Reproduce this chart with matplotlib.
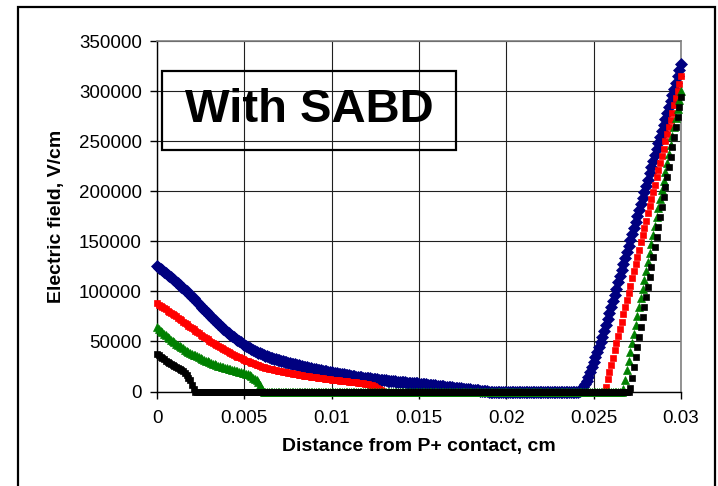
import matplotlib.pyplot as plt
import numpy as np
from matplotlib.patches import Rectangle

plt.rcParams['font.family'] = ['Liberation Sans', 'DejaVu Sans']

# Position grid, cm (step 0.0001 cm)
x = np.linspace(0, 0.03, 301)

# Electric field, kV/cm. Non-zero parts typed out, zero parts as runs.
blue_left = [125.0, 123.7, 122.4, 121.0, 119.6, 118.2, 116.8, 115.4, 113.9, 112.5,
             111.0, 109.5, 107.9, 106.4, 104.8, 103.2, 101.6, 100.0, 98.3, 96.6,
             94.8, 93.1, 91.3, 89.4, 87.6, 85.7, 83.8, 81.9, 80.1, 78.3,
             76.5, 74.7, 72.9, 71.2, 69.4, 67.7, 66.0, 64.4, 62.8, 61.2,
             59.7, 58.2, 56.8, 55.4, 54.0, 52.7, 51.4, 50.2, 49.0, 47.8,
             46.7, 45.6, 44.6, 43.5, 42.5, 41.6, 40.7, 39.8, 38.9, 38.1,
             37.3, 36.6, 35.9, 35.2, 34.5, 33.9, 33.4, 32.9, 32.3, 31.8,
             31.3, 30.8, 30.3, 29.8, 29.3, 28.8, 28.3, 27.9, 27.4, 27.0,
             26.5, 26.1, 25.7, 25.3, 24.8, 24.4, 24.0, 23.7, 23.3, 22.9,
             22.5, 22.2, 21.8, 21.5, 21.1, 20.8, 20.4, 20.1, 19.8, 19.5,
             19.2, 18.9, 18.5, 18.2, 17.9, 17.6, 17.3, 17.0, 16.7, 16.4,
             16.1, 15.8, 15.6, 15.3, 15.0, 14.8, 14.5, 14.3, 14.0, 13.8,
             13.5, 13.3, 13.1, 12.8, 12.6, 12.4, 12.2, 12.0, 11.8, 11.5,
             11.3, 11.1, 10.9, 10.8, 10.6, 10.4, 10.2, 10.0, 9.8, 9.7,
             9.5, 9.3, 9.2, 9.0, 8.9, 8.7, 8.6, 8.4, 8.3, 8.1,
             8.0, 7.8, 7.6, 7.4, 7.2, 7.0, 6.8, 6.6, 6.4, 6.2,
             6.0, 5.8, 5.6, 5.4, 5.2, 5.0, 4.8, 4.6, 4.4, 4.2,
             4.0, 3.8, 3.6, 3.4, 3.2, 3.0, 2.8, 2.6, 2.4, 2.2,
             2.0, 1.8, 1.6, 1.4, 1.2, 1.0, 0.8, 0.6, 0.4, 0.2]
blue_rise = [1.0, 3.0, 5.0, 8.0, 11.0, 15.0, 19.0, 24.0, 29.0, 34.0,
             39.0, 44.0, 49.0, 54.5, 60.5, 66.5, 72.6, 78.6, 84.7, 90.7,
             96.8, 102.8, 108.9, 114.9, 121.0, 127.0, 133.1, 139.1, 145.2, 151.2,
             157.3, 163.3, 169.4, 175.4, 181.5, 187.5, 193.6, 199.6, 205.7, 211.7,
             217.8, 223.8, 229.9, 235.9, 242.0, 248.0, 254.1, 260.1, 266.2, 272.2,
             278.3, 284.3, 290.4, 296.4, 302.5, 308.5, 314.6, 320.6, 326.7]
blue = blue_left + [0.0] * 52 + blue_rise

red_left = [88.0, 86.8, 85.6, 84.5, 83.3, 82.1, 80.9, 79.7, 78.6, 77.4,
            76.2, 75.0, 73.7, 72.4, 71.1, 69.8, 68.5, 67.2, 65.9, 64.6,
            63.3, 62.0, 60.7, 59.4, 58.1, 56.9, 55.7, 54.5, 53.3, 52.1,
            50.9, 49.8, 48.7, 47.6, 46.5, 45.5, 44.4, 43.4, 42.4, 41.4,
            40.4, 39.4, 38.5, 37.6, 36.7, 35.8, 34.9, 34.0, 33.2, 32.4,
            31.6, 30.8, 30.1, 29.4, 28.7, 28.0, 27.3, 26.7, 26.1, 25.5,
            24.9, 24.4, 23.9, 23.4, 22.9, 22.4, 22.0, 21.6, 21.2, 20.8,
            20.5, 20.1, 19.8, 19.4, 19.1, 18.7, 18.4, 18.1, 17.7, 17.4,
            17.1, 16.8, 16.5, 16.2, 15.9, 15.7, 15.4, 15.1, 14.8, 14.6,
            14.3, 14.1, 13.8, 13.6, 13.3, 13.1, 12.9, 12.6, 12.4, 12.2,
            12.0, 11.8, 11.6, 11.4, 11.2, 11.0, 10.8, 10.6, 10.4, 10.2,
            10.0, 9.8, 9.6, 9.4, 9.2, 9.0, 8.8, 8.6, 8.3, 8.0,
            7.6, 7.2, 6.8, 6.2, 5.5, 4.7, 3.8, 2.8, 1.8, 0.8]
red_rise = [5.0, 12.2, 19.4, 26.6, 33.8, 41.0, 48.2, 55.4, 62.6, 69.8,
            77.0, 84.2, 91.4, 98.6, 105.8, 113.0, 120.2, 127.4, 134.6, 141.8,
            149.0, 156.2, 163.4, 170.6, 177.8, 185.0, 192.2, 199.4, 206.6, 213.8,
            221.0, 228.2, 235.4, 242.6, 249.8, 257.0, 264.2, 271.4, 278.6, 285.8,
            293.0, 300.2, 307.4, 314.6]
red = red_left + [0.0] * 127 + red_rise

green_left = [64.0, 62.3, 60.7, 59.1, 57.6, 56.1, 54.6, 53.2, 51.8, 50.5,
              49.2, 47.9, 46.6, 45.4, 44.2, 43.0, 41.9, 40.9, 39.8, 38.8,
              37.9, 36.9, 36.0, 35.1, 34.2, 33.3, 32.5, 31.7, 30.9, 30.1,
              29.3, 28.6, 27.9, 27.2, 26.5, 25.9, 25.3, 24.8, 24.2, 23.7,
              23.2, 22.6, 22.1, 21.6, 21.2, 20.7, 20.2, 19.8, 19.3, 18.9,
              18.5, 17.8, 17.0, 16.1, 15.1, 14.0, 12.8, 11.4, 9.5, 6.8,
              3.0]
green_rise = [3.0, 12.0, 21.0, 30.0, 39.0, 48.0, 57.0, 66.0, 75.0, 84.0,
              93.0, 102.0, 111.0, 120.0, 129.0, 138.0, 147.0, 156.0, 165.0, 174.0,
              183.0, 192.0, 201.0, 210.0, 219.0, 228.0, 237.0, 246.0, 255.0, 264.0,
              273.0, 282.0, 291.0, 300.0]
green = green_left + [0.0] * 206 + green_rise

black_left = [37.5, 36.2, 34.9, 33.5, 32.1, 30.8, 29.4, 28.0, 27.0, 26.0,
              25.0, 24.0, 23.0, 22.0, 21.0, 20.0, 18.2, 16.2, 14.0, 11.5,
              7.0, 3.0]
black_rise = [4.0, 14.0, 24.0, 34.0, 44.0, 54.0, 64.0, 74.0, 84.0, 94.0,
              104.0, 114.0, 124.0, 134.0, 144.0, 154.0, 164.0, 174.0, 184.0, 194.0,
              204.0, 214.0, 224.0, 234.0, 244.0, 254.0, 264.0, 274.0, 284.0, 294.0]
black = black_left + [0.0] * 249 + black_rise

x_ticks = [0, 0.005, 0.01, 0.015, 0.02, 0.025, 0.03]
x_tick_labels = ['0', '0.005', '0.01', '0.015', '0.02', '0.025', '0.03']
y_ticks = [0, 50000, 100000, 150000, 200000, 250000, 300000, 350000]

fig = plt.figure(figsize=(7.18, 4.86), dpi=100)
ax = fig.add_axes([0.2187, 0.1944, 0.7298, 0.7212])

series = [(blue, '#000080', 'D', 5.9),
          (red, '#FF0000', 's', 4.3),
          (green, '#008000', '^', 6.2),
          (black, '#000000', 's', 4.6)]
for vals, col, mk, ms in series:
    ax.plot(x, np.array(vals) * 1000, linestyle='none', marker=mk, ms=ms,
            color=col, mec=col, mew=0.5, clip_on=False, zorder=3)

ax.set_xlim(0, 0.03)
ax.set_ylim(0, 350000)
ax.set_xticks(x_ticks)
ax.set_xticklabels(x_tick_labels)
ax.set_yticks(y_ticks)
ax.set_yticklabels([str(v) for v in y_ticks])
ax.tick_params(direction='out', length=5, width=1, color='black',
               labelsize=13.5, pad=6)
ax.tick_params(axis='x', pad=8)
ax.grid(True, color='#202020', linewidth=0.8)
ax.set_axisbelow(True)
for side in ['top', 'right']:
    ax.spines[side].set_color('#808080')
    ax.spines[side].set_linewidth(1.2)
for side in ['left', 'bottom']:
    ax.spines[side].set_color('black')
    ax.spines[side].set_linewidth(1)

ax.set_xlabel('Distance from P+ contact, cm', fontsize=14, fontweight='bold',
              labelpad=8)
ax.set_ylabel('Electric field, V/cm', fontsize=14, fontweight='bold',
              labelpad=10)

# Label box
ax.add_patch(Rectangle((0.0003, 241000), 0.0168, 79000, fill=False,
                       edgecolor='black', linewidth=1.6, zorder=4))
ax.text(0.00873, 281000, 'With SABD', fontsize=34, fontweight='bold',
        ha='center', va='center', zorder=5)

# Outer chart border
fig.add_artist(Rectangle((18 / 718, -0.05), 697 / 718, 1.05 - 7 / 486,
                         transform=fig.transFigure, fill=False,
                         edgecolor='black', linewidth=1.6))

fig.savefig('out.png', dpi=100)
